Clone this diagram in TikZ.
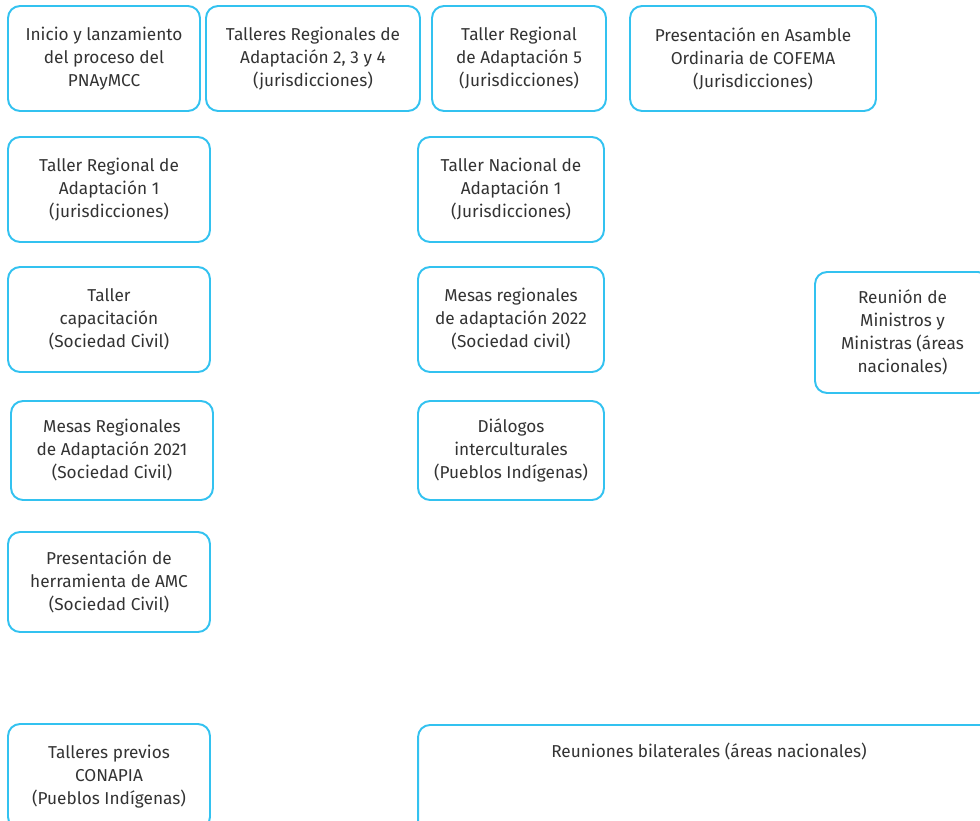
\documentclass[tikz,border=0pt]{standalone}
\usepackage{fontspec}
\setmainfont{Fira Sans}
\usepackage{tikz}
\definecolor{celeste}{HTML}{33C2F0}
\definecolor{texto}{HTML}{333333}

\tikzset{
  caja/.style={draw=celeste, line width=1.1pt, rounded corners=0.24cm,
    text=texto, align=center, inner sep=0pt,
    font=\fontsize{9.8}{13.1}\selectfont}
}

\begin{document}
\begin{tikzpicture}[x=0.02cm, y=-0.02cm]
    \useasboundingbox (0,0) rectangle (980,821);
    \clip (0,0) rectangle (980,821);

    % primera fila
    \node[caja, minimum width=3.84cm, minimum height=2.1cm] (inicio) at (104,58.5)
      {Inicio y lanzamiento\\del proceso del\\PNAyMCC};
    \node[caja, minimum width=4.28cm, minimum height=2.1cm] (talleres234) at (313,58.5)
      {Talleres Regionales de\\Adaptación 2, 3 y 4\\(jurisdicciones)};
    \node[caja, minimum width=3.48cm, minimum height=2.1cm] (taller5) at (519,58.5)
      {Taller Regional\\de Adaptación 5\\(Jurisdicciones)};
    \node[caja, minimum width=4.92cm, minimum height=2.1cm] (cofema) at (753,58.5)
      {Presentación en Asamble\\Ordinaria de COFEMA\\(Jurisdicciones)};

    % columna izquierda
    \node[caja, minimum width=4.04cm, minimum height=2.1cm] (taller1) at (109,189.5)
      {Taller Regional de\\Adaptación 1\\(jurisdicciones)};
    \node[caja, minimum width=4.04cm, minimum height=2.1cm] (capacitacion) at (109,319.5)
      {Taller\\capacitación\\(Sociedad Civil)};
    \node[caja, minimum width=4.04cm, minimum height=1.98cm] (mesas2021) at (112,450.5)
      {Mesas Regionales\\de Adaptación 2021\\(Sociedad Civil)};
    \node[caja, minimum width=4.04cm, minimum height=2.0cm] (amc) at (109,582)
      {Presentación de\\herramienta de AMC\\(Sociedad Civil)};
    \node[caja, minimum width=4.04cm, minimum height=2.1cm] (conapia) at (109,776.5)
      {Talleres previos\\CONAPIA\\(Pueblos Indígenas)};

    % columna central
    \node[caja, minimum width=3.72cm, minimum height=2.1cm] (nacional1) at (511,189.5)
      {Taller Nacional de\\Adaptación 1\\(Jurisdicciones)};
    \node[caja, minimum width=3.72cm, minimum height=2.1cm] (mesas2022) at (511,319.5)
      {Mesas regionales\\de adaptación 2022\\(Sociedad civil)};
    \node[caja, minimum width=3.72cm, minimum height=1.98cm] (dialogos) at (511,450.5)
      {Diálogos\\interculturales\\(Pueblos Indígenas)};
    \node[caja, minimum width=11.64cm, text depth=1.55cm, inner ysep=0.36cm, anchor=north] (bilaterales) at (709,724)
      {Reuniones bilaterales (áreas nacionales)};

    % derecha
    \node[caja, minimum width=3.5cm, minimum height=2.42cm] (ministros) at (902.5,332.5)
      {Reunión de\\Ministros y\\Ministras (áreas\\nacionales)};

    % \draw[help lines, step=50] (0,0) grid (980,821);
\end{tikzpicture}
\end{document}
